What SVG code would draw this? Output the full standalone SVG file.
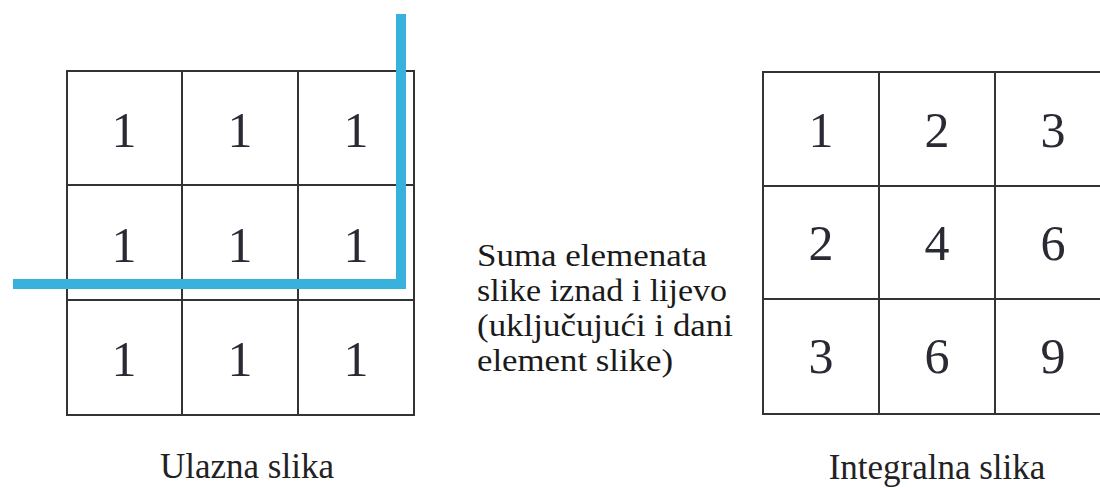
<svg xmlns="http://www.w3.org/2000/svg" width="1100" height="488" viewBox="0 0 1100 488">
<style>
.cell{fill:#fff;stroke:#333;stroke-width:2}
.num{font-family:"Liberation Serif",serif;font-size:50px;fill:#2a2a35;text-anchor:middle}
.txt{font-family:"Liberation Serif",serif;font-size:31px;fill:#1a1a1a}
.cap{font-family:"Liberation Serif",serif;font-size:35px;fill:#222;text-anchor:middle}
.blue{fill:none;stroke:#38b2dc;stroke-width:10;stroke-linejoin:miter;stroke-linecap:square}
</style>
<rect width="1100" height="488" fill="#fff"/>
<g id="input-grid">
<rect class="cell" x="67" y="71" width="347" height="344"/>
<path d="M182 71V415M298 71V415M67 185H414M67 300H414" stroke="#333" stroke-width="2" fill="none"/>
<text class="num" x="124" y="147">1</text><text class="num" x="240" y="147">1</text><text class="num" x="356" y="147">1</text>
<text class="num" x="124" y="262">1</text><text class="num" x="240" y="262">1</text><text class="num" x="356" y="262">1</text>
<text class="num" x="124" y="376">1</text><text class="num" x="240" y="376">1</text><text class="num" x="356" y="376">1</text>
</g>
<g id="connectors">
<path class="blue" d="M18 284H401V19"/>
</g>
<g id="integral-grid">
<rect class="cell" x="763" y="72" width="348" height="342"/>
<path d="M879 72V414M995 72V414M763 186H1111M763 299H1111" stroke="#333" stroke-width="2" fill="none"/>
<text class="num" x="821" y="147">1</text><text class="num" x="937" y="147">2</text><text class="num" x="1053" y="147">3</text>
<text class="num" x="821" y="260">2</text><text class="num" x="937" y="260">4</text><text class="num" x="1053" y="260">6</text>
<text class="num" x="821" y="373">3</text><text class="num" x="937" y="373">6</text><text class="num" x="1053" y="373">9</text>
</g>
<g id="description">
<text class="txt" x="477" y="266" textLength="230" lengthAdjust="spacingAndGlyphs">Suma elemenata</text>
<text class="txt" x="477" y="301" textLength="250" lengthAdjust="spacingAndGlyphs">slike iznad i lijevo</text>
<text class="txt" x="477" y="336" textLength="256" lengthAdjust="spacingAndGlyphs">(uključujući i dani</text>
<text class="txt" x="477" y="371" textLength="196" lengthAdjust="spacingAndGlyphs">element slike)</text>
</g>
<g id="labels">
<text class="cap" x="247" y="478">Ulazna slika</text>
<text class="cap" x="937" y="479">Integralna slika</text>
</g>
</svg>
